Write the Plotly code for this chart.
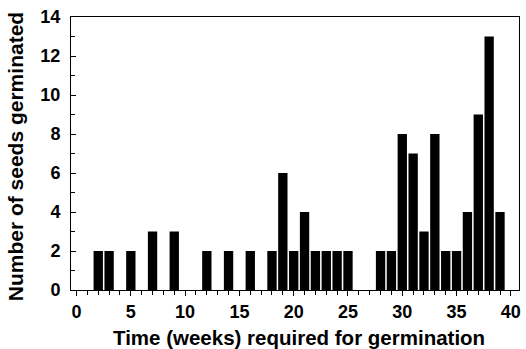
import plotly.graph_objects as go

weeks = [2, 3, 5, 7, 9, 12, 14, 16, 18, 19, 20, 21, 22, 23, 24, 25,
         28, 29, 30, 31, 32, 33, 34, 35, 36, 37, 38, 39]
seeds = [2, 2, 2, 3, 3, 2, 2, 2, 2, 6, 2, 4, 2, 2, 2, 2,
         2, 2, 8, 7, 3, 8, 2, 2, 4, 9, 13, 4]
x_ticks = [0, 5, 10, 15, 20, 25, 30, 35, 40]
y_ticks = [0, 2, 4, 6, 8, 10, 12, 14]
x_title = "Time (weeks) required for germination"
y_title = "Number of seeds germinated"

fig = go.Figure(go.Bar(x=weeks, y=seeds, width=0.86,
                       marker=dict(color="black", line=dict(width=0))))

FONT = "Arial, Liberation Sans, sans-serif"
fig.update_layout(
    width=526, height=349,
    margin=dict(l=71, r=7, t=17, b=59),
    paper_bgcolor="white", plot_bgcolor="white",
    showlegend=False,
    font=dict(family=FONT, size=18, color="black", weight="bold"),
    xaxis=dict(range=[-0.51, 40.75], tickvals=x_ticks, ticks="outside",
               ticklen=5, tickwidth=1, tickcolor="black",
               minor=dict(dtick=1, ticks="outside", ticklen=4, tickcolor="black"),
               showline=True, linecolor="black", linewidth=1, mirror=True,
               showgrid=False, zeroline=False, automargin=False,
               tickfont=dict(family=FONT, size=18, weight="bold")),
    yaxis=dict(range=[0, 14], tickvals=y_ticks, ticks="inside",
               ticklen=5, tickwidth=1, tickcolor="black",
               minor=dict(dtick=1, ticks="inside", ticklen=4, tickcolor="black"),
               showline=True, linecolor="black", linewidth=1, mirror=True,
               showgrid=False, zeroline=False, automargin=False,
               ticklabelstandoff=6,
               tickfont=dict(family=FONT, size=18, weight="bold")),
    annotations=[
        dict(text=x_title, xref="paper", yref="paper", x=0.508, y=-0.125,
             xanchor="center", yanchor="top", showarrow=False,
             font=dict(family=FONT, size=20.5, weight="bold")),
        dict(text=y_title, xref="paper", yref="paper", x=-0.1245, y=0.487,
             xanchor="center", yanchor="middle", textangle=-90, showarrow=False,
             font=dict(family=FONT, size=21, weight="bold")),
    ],
)
fig.write_html("out.html", config={"displayModeBar": False},
               post_script="document.body.style.margin='0';document.body.style.padding='0';")
